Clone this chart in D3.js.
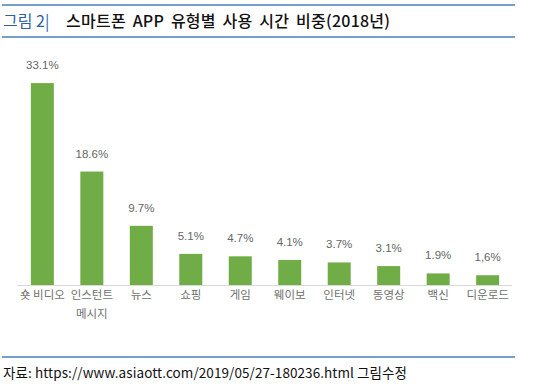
<!DOCTYPE html>
<meta charset="utf-8">
<style>
  body { margin: 0; background: #fff; }
  svg { display: block; }
</style>
<svg width="535" height="388"></svg>
<script src="https://cdn.jsdelivr.net/npm/d3@7"></script>
<script>

var categories = [["숏 비디오"], ["인스턴트", "메시지"], ["뉴스"], ["쇼핑"], ["게임"], ["웨이보"], ["인터넷"], ["동영상"], ["백신"], ["디운로드"]];
var values = [33.1, 18.6, 9.7, 5.1, 4.7, 4.1, 3.7, 3.1, 1.9, 1.6];
var valueLabels = ["33.1%", "18.6%", "9.7%", "5.1%", "4.7%", "4.1%", "3.7%", "3.1%", "1.9%", "1,6%"];

var svg = d3.select("svg"),
    font = "'Noto Sans CJK KR', 'Noto Sans', sans-serif",
    baseY = 285;

var x = d3.scaleBand()
    .domain(d3.range(values.length))
    .range([17.5, 512.5])
    .paddingInner(0.535)
    .paddingOuter(0.27);

var y = d3.scaleLinear()
    .domain([0, 35])
    .range([baseY, baseY - 35 * 6.1]);

// title with rules above and below
svg.append("line").attr("x1", 2).attr("x2", 515).attr("y1", 5).attr("y2", 5)
    .attr("stroke", "#4a7ebb").attr("stroke-width", 1.3);
svg.append("line").attr("x1", 2).attr("x2", 515).attr("y1", 37).attr("y2", 37)
    .attr("stroke", "#4a7ebb").attr("stroke-width", 1.3);

var title = svg.append("text").attr("y", 27)
    .attr("font-family", font).attr("font-size", 16);
title.append("tspan").attr("x", 3).attr("fill", "#2e5f9e").text("그림 2|");
title.append("tspan").attr("x", 66).attr("fill", "#111").attr("font-weight", 500)
    .attr("word-spacing", 3)
    .attr("textLength", 324).attr("lengthAdjust", "spacing")
    .text("스마트폰 APP 유형별 사용 시간 비중(2018년)");

// bars
svg.selectAll("rect.bar")
    .data(values)
  .enter().append("rect")
    .attr("class", "bar")
    .attr("x", function(d, i) { return x(i); })
    .attr("width", x.bandwidth())
    .attr("y", function(d) { return y(d); })
    .attr("height", function(d) { return baseY - y(d); })
    .attr("fill", "#70ad47");

// axis line
svg.append("line").attr("x1", 17).attr("x2", 512).attr("y1", baseY + 0.5).attr("y2", baseY + 0.5)
    .attr("stroke", "#d9d9d9").attr("stroke-width", 1);

// value labels
svg.selectAll("text.val")
    .data(values)
  .enter().append("text")
    .attr("class", "val")
    .attr("x", function(d, i) { return x(i) + x.bandwidth() / 2; })
    .attr("y", function(d) { return y(d) - 14; })
    .attr("text-anchor", "middle")
    .attr("font-family", "'Liberation Sans', Arial, sans-serif")
    .attr("font-size", 11.5)
    .attr("fill", "#666")
    .text(function(d, i) { return valueLabels[i]; });

// category labels
var cat = svg.selectAll("text.cat")
    .data(categories)
  .enter().append("text")
    .attr("class", "cat")
    .attr("text-anchor", "middle")
    .attr("font-family", font)
    .attr("font-size", 11.5)
    .attr("fill", "#707070");

cat.selectAll("tspan")
    .data(function(d, i) { return d.map(function(t) { return { t: t, i: i }; }); })
  .enter().append("tspan")
    .attr("x", function(d) { return x(d.i) + x.bandwidth() / 2; })
    .attr("y", function(d, j) { return 299 + j * 19; })
    .text(function(d) { return d.t; });

// footer
svg.append("line").attr("x1", 2).attr("x2", 515).attr("y1", 357).attr("y2", 357)
    .attr("stroke", "#4a7ebb").attr("stroke-width", 1.3);
svg.append("text").attr("x", 3).attr("y", 378)
    .attr("font-family", font).attr("font-size", 13.5)
    .attr("fill", "#111")
    .attr("textLength", 404).attr("lengthAdjust", "spacing")
    .text("자료:  https://www.asiaott.com/2019/05/27-180236.html  그림수정");

</script>
